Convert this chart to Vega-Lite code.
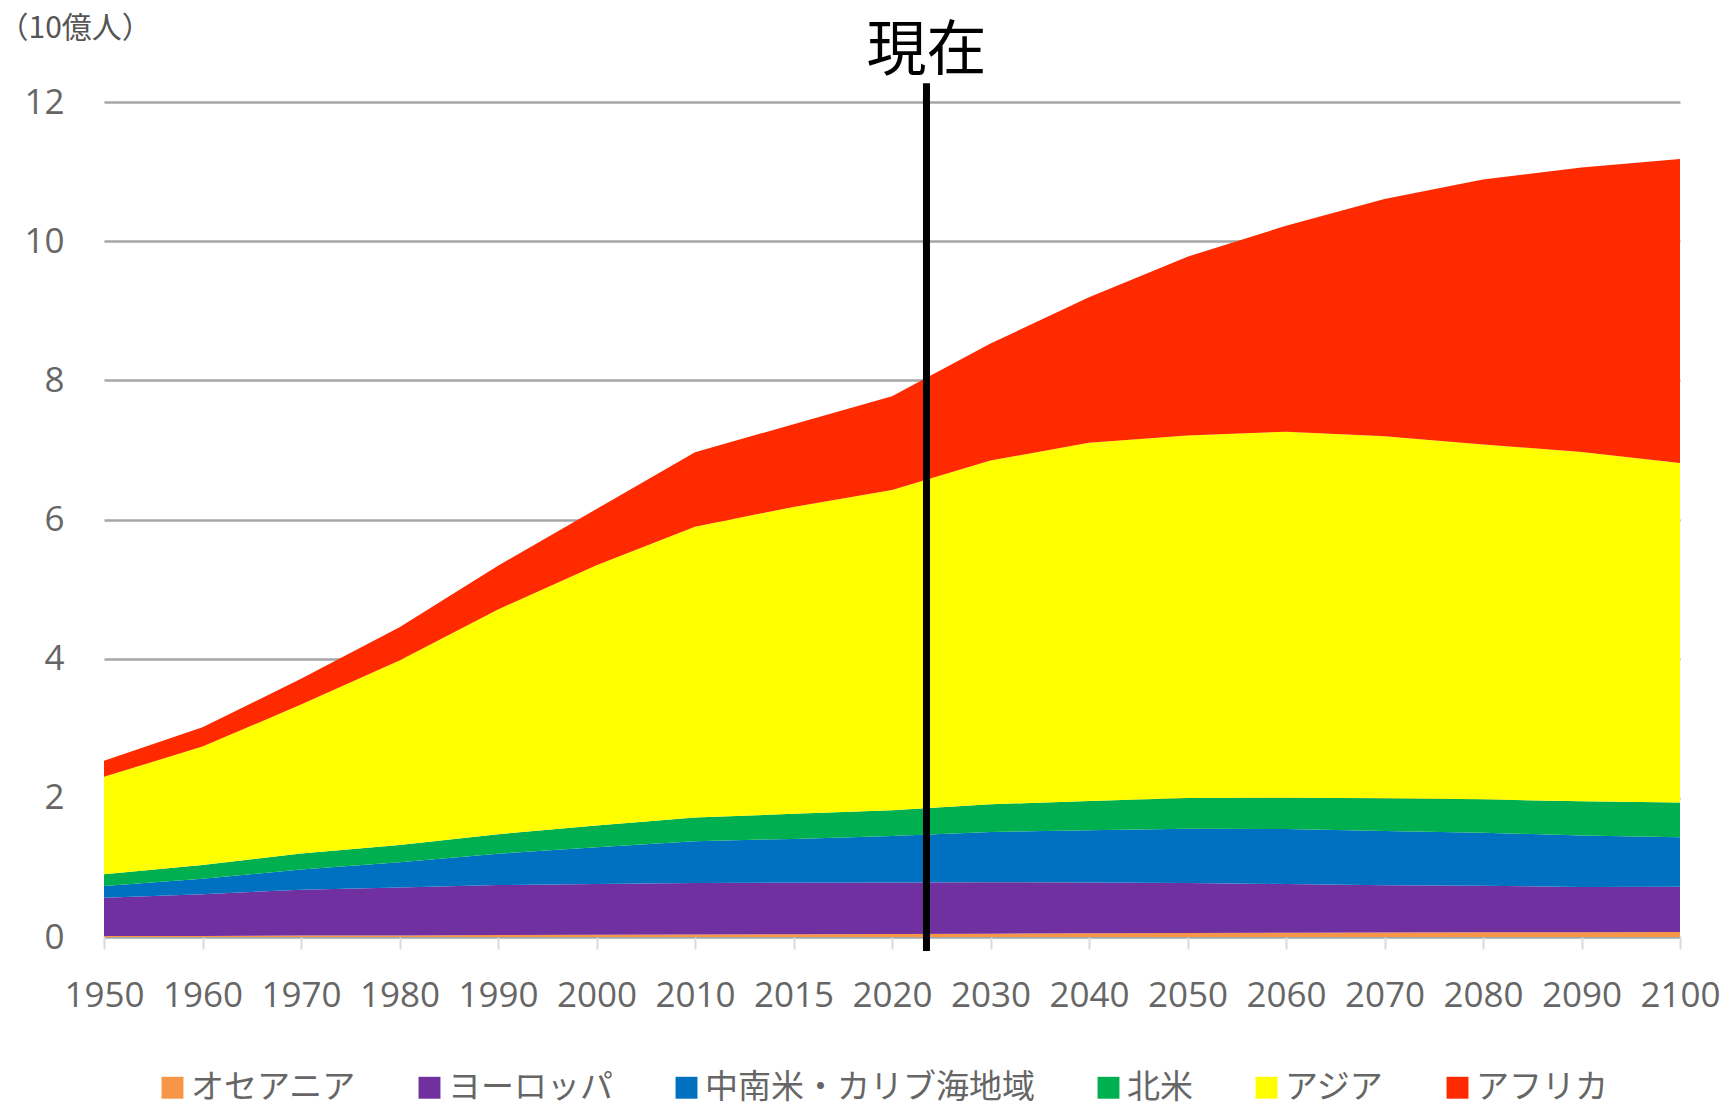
{
  "$schema": "https://vega.github.io/schema/vega-lite/v6.json",
  "width": 1576,
  "height": 835,
  "autosize": {"type": "none"},
  "padding": {"left": 104, "top": 102, "right": 49, "bottom": 170},
  "background": "white",
  "config": {"view": {"stroke": null}, "font": "Open Sans"},
  "datasets": {
    "pop": [
      {"year": 1950, "region": "オセアニア", "pop": 0.013}, {"year": 1950, "region": "ヨーロッパ", "pop": 0.55}, {"year": 1950, "region": "中南米・カリブ海地域", "pop": 0.17}, {"year": 1950, "region": "北米", "pop": 0.17}, {"year": 1950, "region": "アジア", "pop": 1.40}, {"year": 1950, "region": "アフリカ", "pop": 0.23},
      {"year": 1960, "region": "オセアニア", "pop": 0.016}, {"year": 1960, "region": "ヨーロッパ", "pop": 0.60}, {"year": 1960, "region": "中南米・カリブ海地域", "pop": 0.22}, {"year": 1960, "region": "北米", "pop": 0.20}, {"year": 1960, "region": "アジア", "pop": 1.70}, {"year": 1960, "region": "アフリカ", "pop": 0.28},
      {"year": 1970, "region": "オセアニア", "pop": 0.020}, {"year": 1970, "region": "ヨーロッパ", "pop": 0.66}, {"year": 1970, "region": "中南米・カリブ海地域", "pop": 0.29}, {"year": 1970, "region": "北米", "pop": 0.23}, {"year": 1970, "region": "アジア", "pop": 2.14}, {"year": 1970, "region": "アフリカ", "pop": 0.37},
      {"year": 1980, "region": "オセアニア", "pop": 0.023}, {"year": 1980, "region": "ヨーロッパ", "pop": 0.69}, {"year": 1980, "region": "中南米・カリブ海地域", "pop": 0.36}, {"year": 1980, "region": "北米", "pop": 0.25}, {"year": 1980, "region": "アジア", "pop": 2.65}, {"year": 1980, "region": "アフリカ", "pop": 0.48},
      {"year": 1990, "region": "オセアニア", "pop": 0.027}, {"year": 1990, "region": "ヨーロッパ", "pop": 0.72}, {"year": 1990, "region": "中南米・カリブ海地域", "pop": 0.45}, {"year": 1990, "region": "北米", "pop": 0.28}, {"year": 1990, "region": "アジア", "pop": 3.23}, {"year": 1990, "region": "アフリカ", "pop": 0.63},
      {"year": 2000, "region": "オセアニア", "pop": 0.031}, {"year": 2000, "region": "ヨーロッパ", "pop": 0.73}, {"year": 2000, "region": "中南米・カリブ海地域", "pop": 0.53}, {"year": 2000, "region": "北米", "pop": 0.31}, {"year": 2000, "region": "アジア", "pop": 3.74}, {"year": 2000, "region": "アフリカ", "pop": 0.81},
      {"year": 2010, "region": "オセアニア", "pop": 0.037}, {"year": 2010, "region": "ヨーロッパ", "pop": 0.74}, {"year": 2010, "region": "中南米・カリブ海地域", "pop": 0.60}, {"year": 2010, "region": "北米", "pop": 0.34}, {"year": 2010, "region": "アジア", "pop": 4.18}, {"year": 2010, "region": "アフリカ", "pop": 1.07},
      {"year": 2015, "region": "オセアニア", "pop": 0.040}, {"year": 2015, "region": "ヨーロッパ", "pop": 0.74}, {"year": 2015, "region": "中南米・カリブ海地域", "pop": 0.63}, {"year": 2015, "region": "北米", "pop": 0.36}, {"year": 2015, "region": "アジア", "pop": 4.41}, {"year": 2015, "region": "アフリカ", "pop": 1.19},
      {"year": 2020, "region": "オセアニア", "pop": 0.043}, {"year": 2020, "region": "ヨーロッパ", "pop": 0.74}, {"year": 2020, "region": "中南米・カリブ海地域", "pop": 0.67}, {"year": 2020, "region": "北米", "pop": 0.37}, {"year": 2020, "region": "アジア", "pop": 4.60}, {"year": 2020, "region": "アフリカ", "pop": 1.35},
      {"year": 2030, "region": "オセアニア", "pop": 0.048}, {"year": 2030, "region": "ヨーロッパ", "pop": 0.74}, {"year": 2030, "region": "中南米・カリブ海地域", "pop": 0.72}, {"year": 2030, "region": "北米", "pop": 0.40}, {"year": 2030, "region": "アジア", "pop": 4.94}, {"year": 2030, "region": "アフリカ", "pop": 1.68},
      {"year": 2040, "region": "オセアニア", "pop": 0.053}, {"year": 2040, "region": "ヨーロッパ", "pop": 0.73}, {"year": 2040, "region": "中南米・カリブ海地域", "pop": 0.75}, {"year": 2040, "region": "北米", "pop": 0.42}, {"year": 2040, "region": "アジア", "pop": 5.15}, {"year": 2040, "region": "アフリカ", "pop": 2.09},
      {"year": 2050, "region": "オセアニア", "pop": 0.057}, {"year": 2050, "region": "ヨーロッパ", "pop": 0.72}, {"year": 2050, "region": "中南米・カリブ海地域", "pop": 0.78}, {"year": 2050, "region": "北米", "pop": 0.44}, {"year": 2050, "region": "アジア", "pop": 5.21}, {"year": 2050, "region": "アフリカ", "pop": 2.57},
      {"year": 2060, "region": "オセアニア", "pop": 0.061}, {"year": 2060, "region": "ヨーロッパ", "pop": 0.70}, {"year": 2060, "region": "中南米・カリブ海地域", "pop": 0.79}, {"year": 2060, "region": "北米", "pop": 0.45}, {"year": 2060, "region": "アジア", "pop": 5.26}, {"year": 2060, "region": "アフリカ", "pop": 2.96},
      {"year": 2070, "region": "オセアニア", "pop": 0.065}, {"year": 2070, "region": "ヨーロッパ", "pop": 0.68}, {"year": 2070, "region": "中南米・カリブ海地域", "pop": 0.78}, {"year": 2070, "region": "北米", "pop": 0.47}, {"year": 2070, "region": "アジア", "pop": 5.20}, {"year": 2070, "region": "アフリカ", "pop": 3.41},
      {"year": 2080, "region": "オセアニア", "pop": 0.068}, {"year": 2080, "region": "ヨーロッパ", "pop": 0.67}, {"year": 2080, "region": "中南米・カリブ海地域", "pop": 0.76}, {"year": 2080, "region": "北米", "pop": 0.48}, {"year": 2080, "region": "アジア", "pop": 5.10}, {"year": 2080, "region": "アフリカ", "pop": 3.81},
      {"year": 2090, "region": "オセアニア", "pop": 0.070}, {"year": 2090, "region": "ヨーロッパ", "pop": 0.65}, {"year": 2090, "region": "中南米・カリブ海地域", "pop": 0.74}, {"year": 2090, "region": "北米", "pop": 0.49}, {"year": 2090, "region": "アジア", "pop": 5.02}, {"year": 2090, "region": "アフリカ", "pop": 4.09},
      {"year": 2100, "region": "オセアニア", "pop": 0.072}, {"year": 2100, "region": "ヨーロッパ", "pop": 0.65}, {"year": 2100, "region": "中南米・カリブ海地域", "pop": 0.71}, {"year": 2100, "region": "北米", "pop": 0.50}, {"year": 2100, "region": "アジア", "pop": 4.88}, {"year": 2100, "region": "アフリカ", "pop": 4.37}
    ],
    "now": [{"label": "現在"}]
  },
  "layer": [
    {
      "data": {"name": "pop"},
      "transform": [
        {"calculate": "indexof(['オセアニア', 'ヨーロッパ', '中南米・カリブ海地域', '北米', 'アジア', 'アフリカ'], datum.region)", "as": "stackKey"}
      ],
      "mark": {"type": "area", "interpolate": "linear"},
      "encoding": {
        "x": {
          "field": "year", "type": "quantitative",
          "scale": {"domain": [1950, 2010, 2020, 2100], "range": [0, 591, 788, 1576], "nice": false, "zero": false},
          "axis": {
            "values": [1950, 1960, 1970, 1980, 1990, 2000, 2010, 2015, 2020, 2030, 2040, 2050, 2060, 2070, 2080, 2090, 2100],
            "format": "d", "title": null, "grid": false, "domain": false,
            "ticks": true, "tickColor": "#d9d9d9", "tickSize": 12, "tickWidth": 2,
            "labelFontSize": 35, "labelColor": "#666666", "labelPadding": 29, "labelFont": "Open Sans",
            "labelOverlap": false, "labelFlush": false
          }
        },
        "y": {
          "field": "pop", "type": "quantitative", "stack": "zero",
          "scale": {"domain": [0, 12], "nice": false, "zero": true},
          "axis": {
            "values": [0, 2, 4, 6, 8, 10, 12], "format": "d",
            "grid": true, "gridColor": "#a6a6a6", "gridWidth": 2.5,
            "domain": false, "ticks": false,
            "labelFontSize": 35, "labelColor": "#666666", "labelPadding": 40, "labelFont": "Open Sans",
            "title": "（10億人）", "titleAngle": 0, "titleAlign": "left", "titleBaseline": "middle",
            "titleX": -106, "titleY": -74, "titleFontSize": 30, "titleFontWeight": "normal",
            "titleColor": "#555555", "titleFont": "Noto Sans CJK JP"
          }
        },
        "order": {"field": "stackKey", "type": "quantitative", "sort": "ascending"},
        "color": {
          "field": "region", "type": "nominal",
          "sort": ["オセアニア", "ヨーロッパ", "中南米・カリブ海地域", "北米", "アジア", "アフリカ"],
          "scale": {
            "domain": ["オセアニア", "ヨーロッパ", "中南米・カリブ海地域", "北米", "アジア", "アフリカ"],
            "range": ["#F79646", "#7030A0", "#0070C0", "#00B050", "#FFFF00", "#FF2A00"]
          },
          "legend": {
            "orient": "none", "direction": "horizontal", "legendX": 52, "legendY": 969,
            "title": null, "symbolType": "square", "symbolSize": 480, "symbolStrokeWidth": 0,
            "labelFontSize": 33, "labelFont": "Noto Sans CJK JP", "labelColor": "#666666",
            "labelLimit": 600, "labelOffset": 2, "columnPadding": 57
          }
        }
      }
    },
    {
      "data": {"name": "now"},
      "mark": {"type": "rule", "strokeWidth": 7, "color": "#000000"},
      "encoding": {
        "x": {"datum": 2023.5, "type": "quantitative"},
        "y": {"datum": 12.27, "type": "quantitative"},
        "y2": {"datum": -0.2}
      }
    },
    {
      "data": {"name": "now"},
      "mark": {"type": "text", "fontSize": 60, "font": "Noto Sans CJK JP", "color": "#000000", "baseline": "middle", "align": "center"},
      "encoding": {
        "x": {"datum": 2023.5, "type": "quantitative"},
        "y": {"datum": 12.72, "type": "quantitative"},
        "text": {"field": "label"}
      }
    }
  ]
}
